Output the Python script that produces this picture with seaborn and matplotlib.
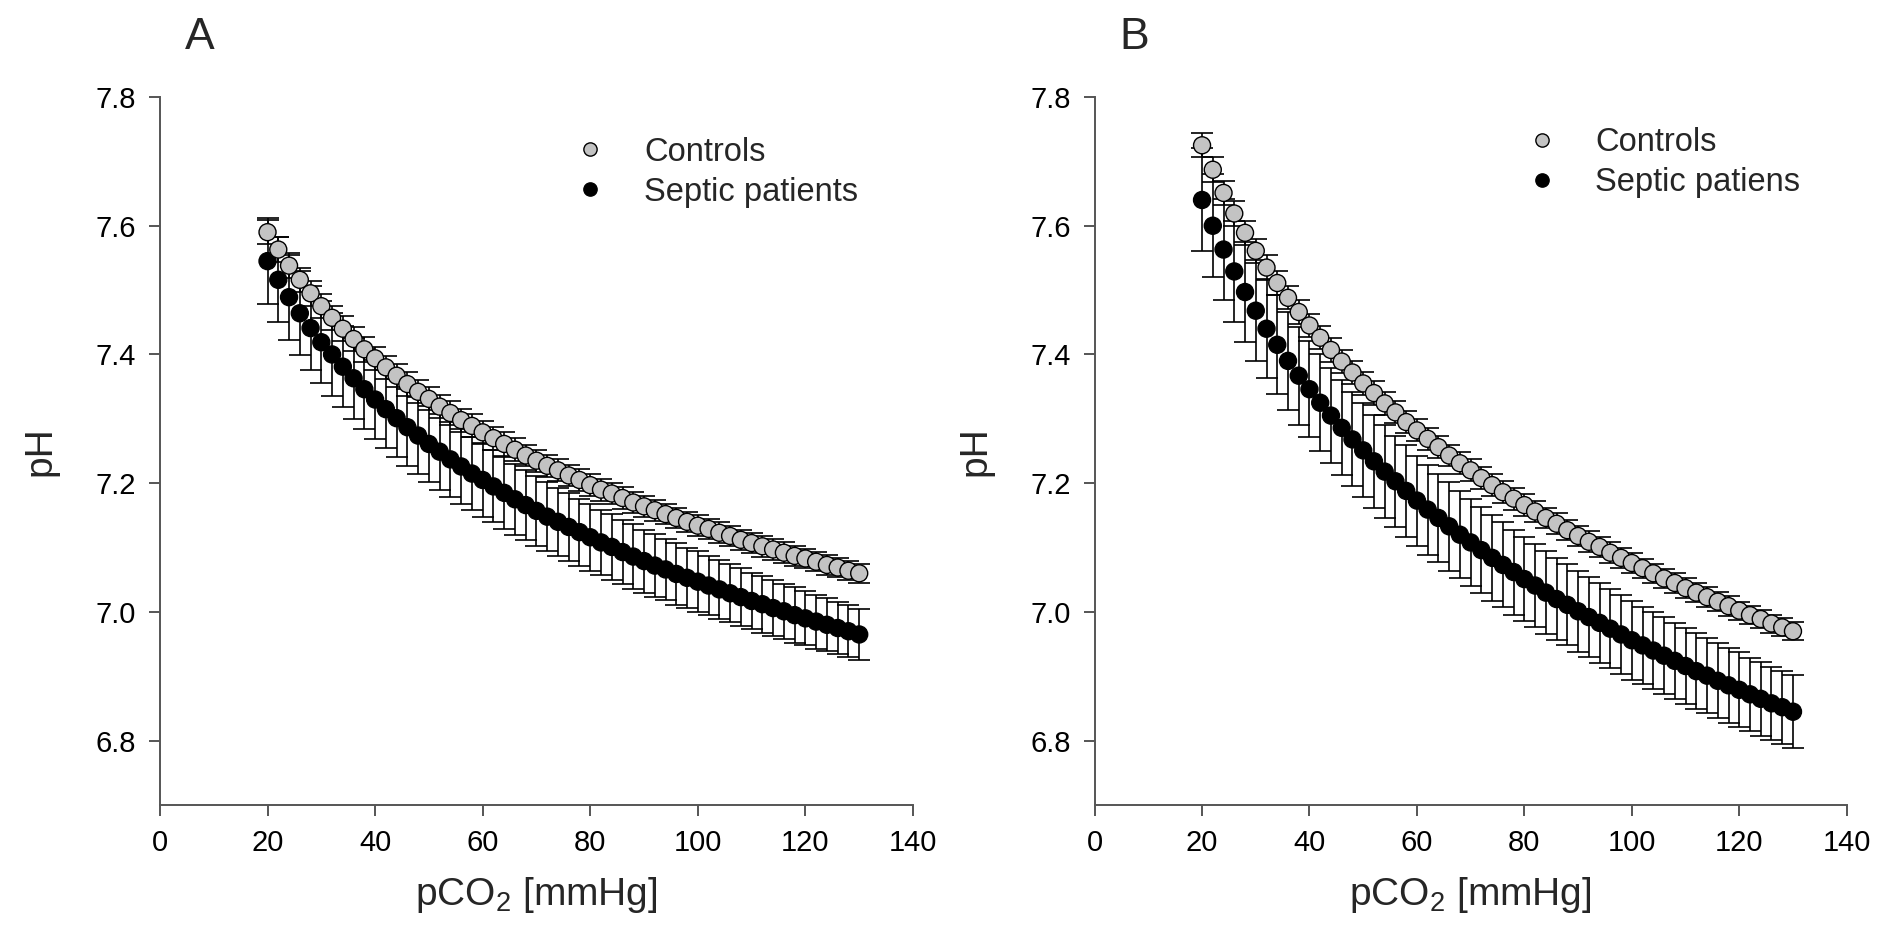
import numpy as np
import pandas as pd
import matplotlib
matplotlib.use('Agg')
import matplotlib.pyplot as plt
import seaborn as sns

# pCO2 grid (mmHg), 20..130 in steps of 2
pco2 = list(range(20, 131, 2))

# Panel A: pH values
ctrl_a = [7.590, 7.563, 7.538, 7.516, 7.495, 7.475, 7.457, 7.440,
          7.424, 7.408, 7.394, 7.380, 7.367, 7.354, 7.342, 7.331,
          7.319, 7.309, 7.298, 7.289, 7.279, 7.270, 7.261, 7.252,
          7.243, 7.235, 7.227, 7.220, 7.212, 7.205, 7.197, 7.190,
          7.184, 7.177, 7.170, 7.164, 7.158, 7.152, 7.146, 7.140,
          7.134, 7.129, 7.123, 7.118, 7.112, 7.107, 7.102, 7.097,
          7.092, 7.087, 7.083, 7.078, 7.073, 7.069, 7.064, 7.060]
ctrl_a_err = [0.019] * 8 + [0.019, 0.019] + [0.018] * 6 + [0.018] * 8 + \
             [0.017] * 8 + [0.017, 0.017] + [0.016] * 6 + [0.016] * 8 + \
             [0.016, 0.016] + [0.015] * 6
sept_a = [7.545, 7.516, 7.489, 7.464, 7.441, 7.419, 7.400, 7.381,
          7.363, 7.346, 7.330, 7.315, 7.301, 7.287, 7.274, 7.261,
          7.249, 7.237, 7.226, 7.215, 7.205, 7.195, 7.185, 7.175,
          7.166, 7.157, 7.148, 7.140, 7.132, 7.124, 7.116, 7.108,
          7.101, 7.093, 7.086, 7.079, 7.072, 7.066, 7.059, 7.053,
          7.047, 7.041, 7.035, 7.029, 7.023, 7.017, 7.012, 7.006,
          7.001, 6.995, 6.990, 6.985, 6.980, 6.975, 6.970, 6.965]
sept_a_err = [0.067, 0.066, 0.066, 0.065, 0.065, 0.064, 0.064, 0.063,
              0.063, 0.062, 0.062, 0.061, 0.061, 0.060, 0.060, 0.059,
              0.059, 0.058, 0.058, 0.057, 0.057, 0.056, 0.056, 0.055,
              0.055, 0.054, 0.054, 0.053, 0.053, 0.052, 0.052, 0.051,
              0.051, 0.050, 0.050, 0.049, 0.049, 0.048, 0.048, 0.047,
              0.047, 0.046, 0.046, 0.045, 0.045, 0.044, 0.044, 0.043,
              0.043, 0.043, 0.042, 0.042, 0.041, 0.041, 0.040, 0.040]

# Panel B
ctrl_b = [7.725, 7.687, 7.651, 7.619, 7.589, 7.561, 7.535, 7.511,
          7.488, 7.466, 7.445, 7.426, 7.407, 7.389, 7.372, 7.355,
          7.340, 7.324, 7.310, 7.295, 7.282, 7.269, 7.256, 7.243,
          7.231, 7.220, 7.208, 7.197, 7.186, 7.176, 7.166, 7.156,
          7.146, 7.137, 7.127, 7.118, 7.109, 7.101, 7.092, 7.084,
          7.076, 7.068, 7.060, 7.052, 7.045, 7.037, 7.030, 7.023,
          7.016, 7.009, 7.002, 6.995, 6.989, 6.982, 6.976, 6.970]
ctrl_b_err = [0.019] * 8 + [0.018] * 8 + [0.018, 0.018] + [0.017] * 6 + \
             [0.017] * 8 + [0.016] * 8 + [0.015] * 8 + [0.015, 0.015] + [0.014] * 6
sept_b = [7.640, 7.600, 7.563, 7.529, 7.497, 7.468, 7.440, 7.415,
          7.390, 7.367, 7.346, 7.325, 7.305, 7.286, 7.268, 7.251,
          7.234, 7.218, 7.203, 7.188, 7.173, 7.159, 7.146, 7.133,
          7.120, 7.108, 7.096, 7.084, 7.073, 7.062, 7.051, 7.041,
          7.030, 7.020, 7.011, 7.001, 6.992, 6.983, 6.974, 6.965,
          6.956, 6.948, 6.940, 6.932, 6.924, 6.916, 6.908, 6.901,
          6.893, 6.886, 6.879, 6.872, 6.865, 6.858, 6.852, 6.845]
sept_b_err = [0.080, 0.080, 0.079, 0.079, 0.078, 0.078, 0.077, 0.077,
              0.076, 0.076, 0.075, 0.075, 0.074, 0.074, 0.073, 0.073,
              0.072, 0.072, 0.071, 0.071, 0.070, 0.070, 0.069, 0.069,
              0.068, 0.068, 0.067, 0.067, 0.066, 0.066, 0.065, 0.065,
              0.064, 0.064, 0.063, 0.063, 0.062, 0.062, 0.061, 0.061,
              0.061, 0.060, 0.060, 0.060, 0.059, 0.059, 0.059, 0.058,
              0.058, 0.058, 0.058, 0.057, 0.057, 0.057, 0.057, 0.057]

sns.set_style('ticks')
plt.rcParams['font.family'] = ['Liberation Sans', 'DejaVu Sans']
plt.rcParams['mathtext.fontset'] = 'custom'
plt.rcParams['mathtext.rm'] = 'Liberation Sans'
plt.rcParams['mathtext.it'] = 'Liberation Sans'
plt.rcParams['mathtext.default'] = 'regular'

fig = plt.figure(figsize=(18.84, 9.5), dpi=100)
ax_a = fig.add_axes([0.0849, 0.1526, 0.3997, 0.7453])
ax_b = fig.add_axes([0.5810, 0.1526, 0.3992, 0.7453])

axis_col = '#555555'

panels = [
    (ax_a, 'A', ctrl_a, ctrl_a_err, sept_a, sept_a_err, 'Septic patients', (0.289, 0.870)),
    (ax_b, 'B', ctrl_b, ctrl_b_err, sept_b, sept_b_err, 'Septic patiens', (0.794, 0.880)),
]

for ax, letter, c, ce, s, se, slabel, leg_pos in panels:
    df = pd.DataFrame({
        'pCO2': pco2 + pco2,
        'pH': s + c,
        'group': [slabel] * len(pco2) + ['Controls'] * len(pco2),
    })
    ax.errorbar(pco2, s, yerr=se, fmt='none', ecolor='black', elinewidth=1.2,
                capsize=8, capthick=1.2, zorder=2)
    ax.errorbar(pco2, c, yerr=ce, fmt='none', ecolor='black', elinewidth=1.2,
                capsize=8, capthick=1.2, zorder=2)
    sns.scatterplot(data=df, x='pCO2', y='pH', hue='group',
                    hue_order=['Controls', slabel],
                    palette={'Controls': '#c3c3c3', slabel: 'black'},
                    s=150, edgecolor='black', linewidth=1.0, ax=ax, zorder=3)

    ax.set_xlim(0, 140)
    ax.set_ylim(6.7, 7.8)
    ax.set_xticks(range(0, 141, 20))
    ax.set_yticks([6.8, 7.0, 7.2, 7.4, 7.6, 7.8])
    ax.set_yticklabels(['6.8', '7.0', '7.2', '7.4', '7.6', '7.8'])
    sns.despine(ax=ax)
    for sp in ['left', 'bottom']:
        ax.spines[sp].set_color(axis_col)
        ax.spines[sp].set_linewidth(1.4)
    ax.tick_params(axis='both', direction='out', length=8, width=1.4,
                   color=axis_col, labelsize=21, pad=9, labelcolor='black')
    ax.set_xlabel('pCO$_2$ [mmHg]', fontsize=28, labelpad=13)
    ax.set_ylabel('pH', fontsize=28, labelpad=27)

    leg = ax.legend(loc='upper left', bbox_to_anchor=leg_pos,
                    bbox_transform=fig.transFigure, frameon=False,
                    fontsize=23.5, markerscale=0.78, handletextpad=0.65,
                    labelspacing=0.28, borderaxespad=0)
    fig.text(ax.get_position().x0 + 0.021, 0.961, letter, fontsize=32,
             ha='center', va='center')

fig.savefig('out.png', dpi=100)
